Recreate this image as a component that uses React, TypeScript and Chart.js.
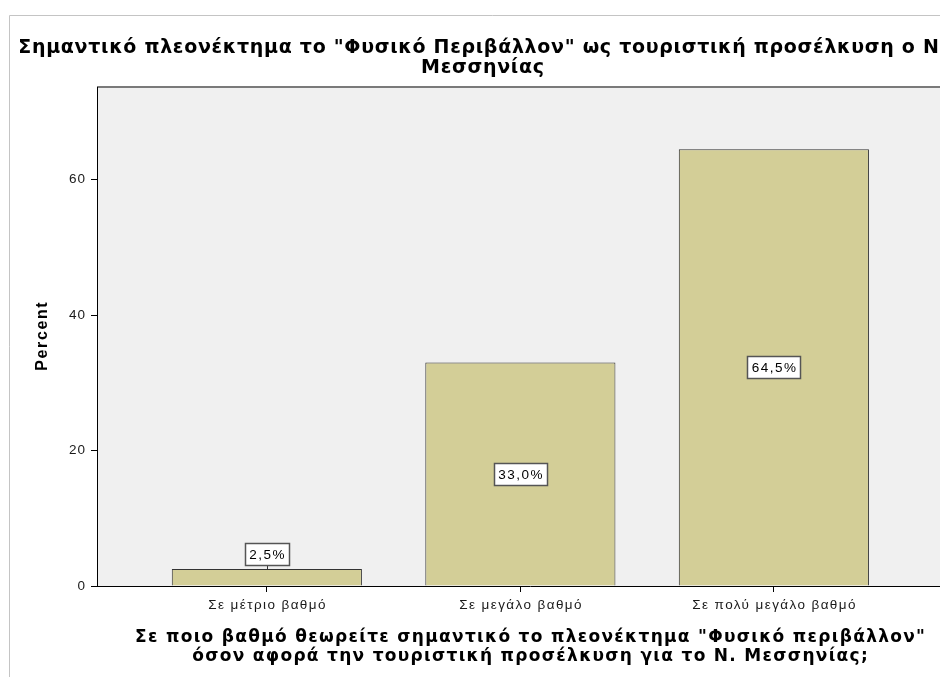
import React, { useEffect, useRef } from "react";
import { Chart, registerables } from "chart.js";

Chart.register(...registerables);

const chartTitle = [
  'Σημαντικό πλεονέκτημα το "Φυσικό Περιβάλλον" ως τουριστική προσέλκυση ο Ν.',
  "Μεσσηνίας",
];
const categories = ["Σε μέτριο βαθμό", "Σε μεγάλο βαθμό", "Σε πολύ μεγάλο βαθμό"];
const percentValues = [2.5, 33.0, 64.5];
const yTickValues = [0, 20, 40, 60];
const yMax = 73.7;
const xAxisTitle = [
  'Σε ποιο βαθμό θεωρείτε σημαντικό το πλεονέκτημα "Φυσικό περιβάλλον"',
  "όσον αφορά την τουριστική προσέλκυση για το Ν. Μεσσηνίας;",
];
const yAxisTitle = "Percent";

const CANVAS_W = 975;
const CANVAS_H = 677;
const SANS = "'Liberation Sans', Arial, sans-serif";
const WIDE = "'DejaVu Sans', sans-serif";

const formatPct = (v: number) => v.toFixed(1).replace(".", ",") + "%";

function spacedText(ctx: any, text: string, x: number, y: number, spacing: number) {
  ctx.letterSpacing = spacing + "px";
  let dx = 0;
  if (ctx.textAlign === "center") dx = spacing / 2;
  else if (ctx.textAlign === "right") dx = spacing;
  ctx.fillText(text, x + dx, y);
  ctx.letterSpacing = "0px";
}

const decorPlugin = {
  id: "decor",
  beforeDraw(chart: any) {
    const { ctx, chartArea: a } = chart;
    ctx.save();
    ctx.fillStyle = "#ffffff";
    ctx.fillRect(0, 0, chart.width, chart.height);
    ctx.strokeStyle = "#c4c4c4";
    ctx.lineWidth = 1;
    ctx.beginPath();
    ctx.moveTo(9.5, chart.height);
    ctx.lineTo(9.5, 15.5);
    ctx.lineTo(chart.width, 15.5);
    ctx.stroke();
    ctx.fillStyle = "#f0f0f0";
    ctx.fillRect(a.left, a.top, a.right - a.left, a.bottom - a.top);
    ctx.strokeStyle = "#7a7a7a";
    ctx.lineWidth = 2;
    ctx.beginPath();
    ctx.moveTo(a.left, a.top);
    ctx.lineTo(a.right, a.top);
    ctx.lineTo(a.right, a.bottom);
    ctx.stroke();
    ctx.restore();
  },
  afterDatasetsDraw(chart: any) {
    const { ctx } = chart;
    const meta = chart.getDatasetMeta(0);
    ctx.save();
    ctx.font = "13.5px " + SANS;
    ctx.textAlign = "center";
    ctx.textBaseline = "middle";
    const sp = 1.5;
    meta.data.forEach((bar: any, i: number) => {
      const text = formatPct(percentValues[i]);
      ctx.letterSpacing = sp + "px";
      const tw = ctx.measureText(text).width - sp;
      ctx.letterSpacing = "0px";
      const bw = Math.round(tw + 9);
      const bh = 22;
      const barH = bar.base - bar.y;
      let cy: number;
      if (barH < bh + 10) {
        const boxBottom = bar.y - 4;
        cy = boxBottom - bh / 2;
        ctx.strokeStyle = "#333";
        ctx.lineWidth = 1;
        ctx.beginPath();
        ctx.moveTo(Math.round(bar.x) + 0.5, bar.y);
        ctx.lineTo(Math.round(bar.x) + 0.5, boxBottom);
        ctx.stroke();
      } else {
        cy = (bar.y + bar.base) / 2;
      }
      const bx = Math.round(bar.x - bw / 2) + 0.5;
      const by = Math.round(cy - bh / 2) + 0.5;
      ctx.fillStyle = "#ffffff";
      ctx.fillRect(bx, by, bw, bh);
      ctx.strokeStyle = "#555";
      ctx.lineWidth = 1.5;
      ctx.strokeRect(bx, by, bw, bh);
      ctx.fillStyle = "#000";
      spacedText(ctx, text, bar.x, cy + 1, sp);
    });
    ctx.restore();
  },
  afterDraw(chart: any) {
    const { ctx, chartArea: a } = chart;
    const xs = chart.scales.x;
    const ys = chart.scales.y;
    ctx.save();
    ctx.fillStyle = "#000";
    ctx.textBaseline = "alphabetic";

    // chart title
    ctx.font = "bold 19px " + WIDE;
    ctx.textAlign = "center";
    const cx = (chart.width + 10) / 2 - 10;
    chartTitle.forEach((line, i) => spacedText(ctx, line, cx, 53 + i * 20, 0.7));

    // category tick labels
    ctx.font = "13.5px " + SANS;
    ctx.fillStyle = "#1a1a1a";
    ctx.textAlign = "center";
    ctx.textBaseline = "middle";
    categories.forEach((c, i) => spacedText(ctx, c, xs.getPixelForValue(i), a.bottom + 19, 1.4));

    // y tick labels
    ctx.font = "13.5px " + SANS;
    ctx.textAlign = "right";
    yTickValues.forEach((v) => spacedText(ctx, String(v), a.left - 12, ys.getPixelForValue(v), 1.0));

    // x axis title
    ctx.fillStyle = "#000";
    ctx.font = "bold 17px " + WIDE;
    ctx.textAlign = "center";
    const tx = (a.left + a.right) / 2;
    xAxisTitle.forEach((line, i) => spacedText(ctx, line, tx, a.bottom + 52 + i * 19, 1.3));

    // y axis title
    ctx.save();
    ctx.translate(43, (a.top + a.bottom) / 2);
    ctx.rotate(-Math.PI / 2);
    ctx.font = "bold 16px " + SANS;
    ctx.textAlign = "center";
    spacedText(ctx, yAxisTitle, 0, 0, 1.6);
    ctx.restore();

    ctx.restore();
  },
};

export default function App() {
  const ref = useRef<HTMLCanvasElement>(null);
  useEffect(() => {
    const chart = new Chart(ref.current!, {
      type: "bar",
      data: {
        datasets: [
          {
            data: percentValues.map((v, i) => ({ x: i, y: v })),
            backgroundColor: "#d3ce97",
            borderColor: "#333333",
            borderWidth: 1,
            barPercentage: 0.75,
            categoryPercentage: 1,
          },
        ],
      },
      options: {
        responsive: false,
        animation: false,
        devicePixelRatio: 1,
        layout: { padding: { left: 10, top: 87, right: 12, bottom: 0 } },
        plugins: { legend: { display: false }, tooltip: { enabled: false }, title: { display: false } },
        scales: {
          x: {
            type: "linear",
            offset: false,
            min: -0.67,
            max: 2.746,
            afterBuildTicks: (s: any) => {
              s.ticks = categories.map((_, i) => ({ value: i }));
            },
            afterFit: (s: any) => {
              s.height = 91;
            },
            grid: {
              display: true,
              offset: false,
              drawOnChartArea: false,
              drawTicks: true,
              tickLength: 6,
              color: "#000",
              lineWidth: 1,
            },
            border: { display: true, color: "#000", width: 1 },
            ticks: { display: false, autoSkip: false },
            title: { display: false },
          },
          y: {
            type: "linear",
            min: 0,
            max: yMax,
            afterBuildTicks: (s: any) => {
              s.ticks = yTickValues.map((v) => ({ value: v }));
            },
            afterFit: (s: any) => {
              s.width = 87;
            },
            grid: { display: true, drawOnChartArea: false, drawTicks: true, tickLength: 6, color: "#000", lineWidth: 1 },
            border: { display: true, color: "#000", width: 1 },
            ticks: { display: false },
            title: { display: false },
          },
        },
      },
      plugins: [decorPlugin],
    } as any);
    return () => chart.destroy();
  }, []);
  return (
    <div
      style={{
        position: "fixed",
        left: 0,
        top: 0,
        width: 940,
        height: 677,
        overflow: "hidden",
        background: "#fff",
      }}
    >
      <canvas
        ref={ref}
        width={CANVAS_W}
        height={CANVAS_H}
        style={{ display: "block", width: CANVAS_W, height: CANVAS_H }}
      />
    </div>
  );
}
